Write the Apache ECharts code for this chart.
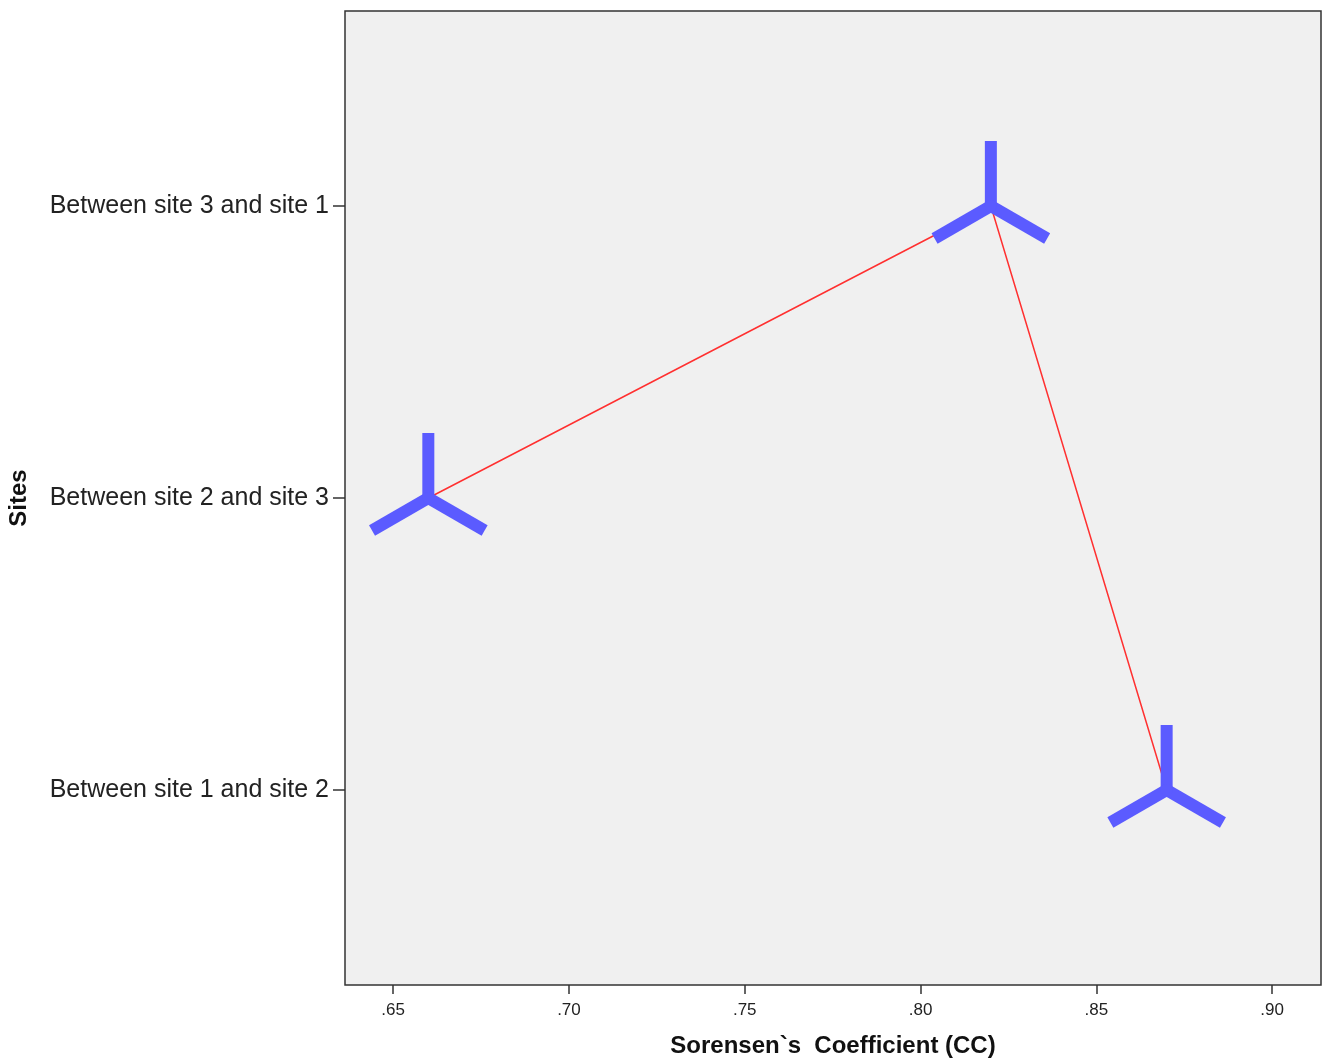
<!DOCTYPE html>
<html><head><meta charset="utf-8">
<script src="https://cdn.jsdelivr.net/npm/echarts@6/dist/echarts.min.js"></script>
<style>html,body{margin:0;padding:0;background:#fff}#c{width:1322px;height:1060px}</style>
</head><body><div id="c"></div>
<script>
const categories = ['Between site 1 and site 2', 'Between site 2 and site 3', 'Between site 3 and site 1'];
const ccValues = [0.87, 0.66, 0.82];
const xTicks = [0.65, 0.70, 0.75, 0.80, 0.85, 0.90];

const pts = categories.map((c, i) => [ccValues[i], i + 1]);
const linePts = pts.slice().sort((a, b) => a[0] - b[0]);

const chart = echarts.init(document.getElementById('c'));
const font = 'Liberation Sans, Arial, sans-serif';
chart.setOption({
  animation: false,
  grid: { left: 345, right: 1, top: 11, bottom: 75, containLabel: false, outerBoundsMode: 'none',
    backgroundColor: '#F0F0F0', show: true, borderColor: '#333', borderWidth: 1.5 },
  xAxis: {
    type: 'value', min: 0.6363, max: 0.9139,
    name: 'Sorensen`s  Coefficient (CC)', nameLocation: 'middle', nameGap: 49,
    nameTextStyle: { fontFamily: font, fontSize: 24, fontWeight: 'bold', color: '#111' },
    axisLine: { show: false },
    axisTick: { show: true, length: 9, lineStyle: { color: '#333', width: 1.5 }, customValues: xTicks },
    axisLabel: { fontFamily: font, fontSize: 17, color: '#222', margin: 17, customValues: xTicks,
      formatter: v => v.toFixed(2).replace(/^0/, '') },
    splitLine: { show: false }
  },
  yAxis: {
    type: 'value', min: 0.332, max: 3.668,
    name: 'Sites', nameLocation: 'middle', nameGap: 314, nameRotate: 90,
    nameTextStyle: { fontFamily: font, fontSize: 24, fontWeight: 'bold', color: '#111' },
    axisLine: { show: false },
    axisTick: { show: true, length: 12, lineStyle: { color: '#333', width: 1.5 }, customValues: [1, 2, 3] },
    axisLabel: { fontFamily: font, fontSize: 25, color: '#222', margin: 16, customValues: [1, 2, 3],
      padding: [8, 0, 0, 0],
      formatter: v => categories[Math.round(v) - 1] },
    splitLine: { show: false }
  },
  series: [
    { type: 'line', data: linePts, symbol: 'none', z: 1, lineStyle: { color: '#FF3030', width: 1.5 } },
    { type: 'custom', z: 2, data: pts,
      renderItem: (params, api) => {
        const p = api.coord([api.value(0), api.value(1)]);
        const L = 65;
        const ang = [-90, 150, 30];
        const children = ang.map(a => {
          const r = a * Math.PI / 180;
          return { type: 'line', shape: { x1: p[0], y1: p[1], x2: p[0] + L * Math.cos(r), y2: p[1] + L * Math.sin(r) },
            style: { stroke: '#5B5BFF', lineWidth: 12, lineCap: 'butt' } };
        });
        children.push({ type: 'circle', shape: { cx: p[0], cy: p[1], r: 6 }, style: { fill: '#5B5BFF' } });
        return { type: 'group', children };
      }
    }
  ]
});
</script></body></html>
